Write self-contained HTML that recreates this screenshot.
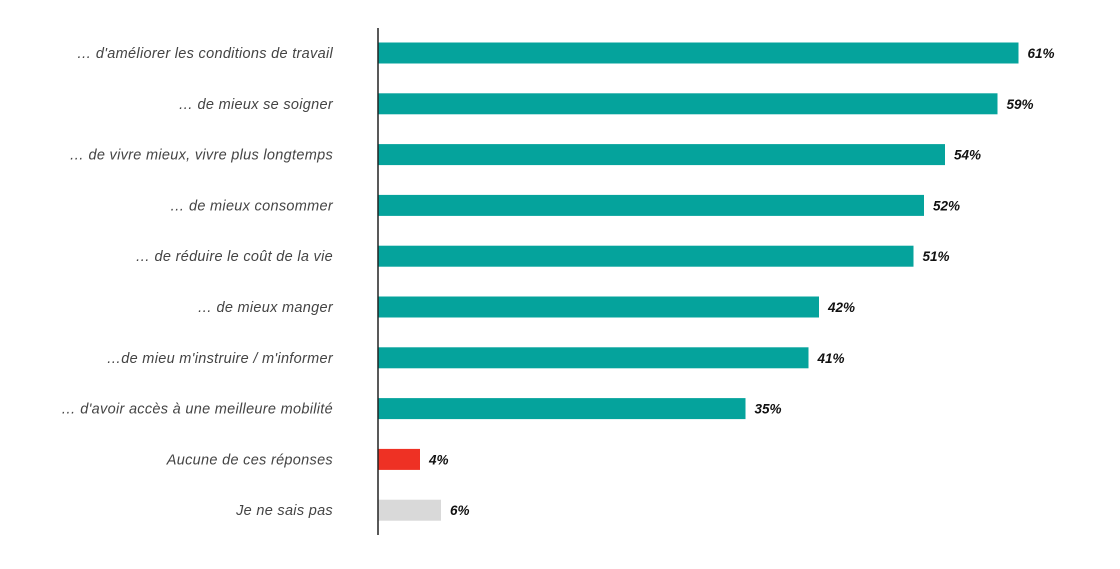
<!DOCTYPE html>
<html><head><meta charset="utf-8">
<style>
html,body{margin:0;padding:0;background:#fff;}
svg{display:block;}
.lbl{font-family:"Liberation Sans","DejaVu Sans",sans-serif;font-style:italic;font-size:14.5px;fill:#444;letter-spacing:0.3px;}
.val{font-family:"Liberation Sans","DejaVu Sans",sans-serif;font-style:italic;font-weight:bold;font-size:13.5px;fill:#111;}
</style></head>
<body>
<svg id="chart" width="1120" height="569" viewBox="0 0 1120 569"></svg>
<script>
const categories = ["… d'améliorer les conditions de travail","… de mieux se soigner","… de vivre mieux, vivre plus longtemps","… de mieux consommer","… de réduire le coût de la vie","… de mieux manger","…de mieu m'instruire / m'informer","… d'avoir accès à une meilleure mobilité","Aucune de ces réponses","Je ne sais pas"];
const values = [61,59,54,52,51,42,41,35,4,6];
const valueLabels = ["61%","59%","54%","52%","51%","42%","41%","35%","4%","6%"];
const colors = ["#05A39C","#05A39C","#05A39C","#05A39C","#05A39C","#05A39C","#05A39C","#05A39C","#EE3124","#D9D9D9"];

const svg = document.getElementById('chart');
const NS = 'http://www.w3.org/2000/svg';
const x0 = 378, pxPer = 10.5;
const xScale = v => x0 + v * pxPer;
const yCenter = i => 53 + i * 50.8;
const barH = 21;

categories.forEach((c, i) => {
  const yc = yCenter(i);
  const r = document.createElementNS(NS, 'rect');
  r.setAttribute('x', x0);
  r.setAttribute('y', yc - barH / 2);
  r.setAttribute('width', xScale(values[i]) - x0);
  r.setAttribute('height', barH);
  r.setAttribute('fill', colors[i]);
  
  
  svg.appendChild(r);

  const t = document.createElementNS(NS, 'text');
  t.setAttribute('x', 333);
  t.setAttribute('y', yc + 5);
  t.setAttribute('text-anchor', 'end');
  t.setAttribute('class', 'lbl');
  t.textContent = c;
  
  
  svg.appendChild(t);

  const v = document.createElementNS(NS, 'text');
  v.setAttribute('x', xScale(values[i]) + 9);
  v.setAttribute('y', yc + 5);
  v.setAttribute('class', 'val');
  v.textContent = valueLabels[i];
  
  
  svg.appendChild(v);
});

const axis = document.createElementNS(NS, 'line');
axis.setAttribute('x1', x0); axis.setAttribute('x2', x0);
axis.setAttribute('y1', 28); axis.setAttribute('y2', 535);
axis.setAttribute('stroke', '#222'); axis.setAttribute('stroke-width', '1.5');


svg.appendChild(axis);
</script>
</body></html>
